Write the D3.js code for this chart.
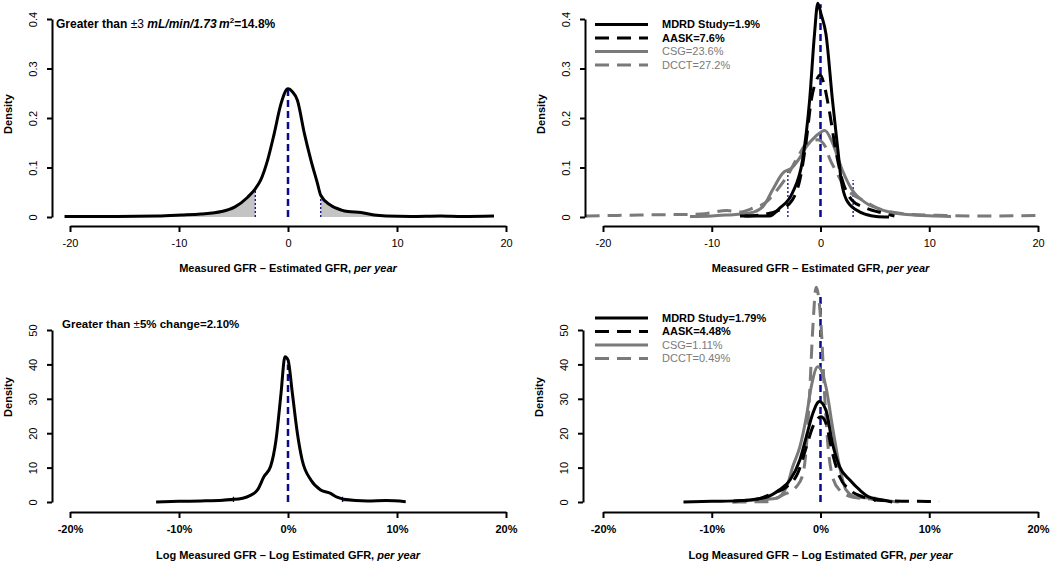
<!DOCTYPE html>
<html>
<head>
<meta charset="utf-8">
<script src="https://cdn.jsdelivr.net/npm/d3@7"></script>
<style>
  body { margin: 0; background: #fff; }
  text { font-family: "Liberation Sans", Arial, sans-serif; }
</style>
</head>
<body>
<script>
// ---- data (x, density) ----
var tlAll = [[-20.5,0.001],[-18,0.001],[-15.7,0.001],[-12,0.002],[-9.8,0.004],[-8,0.006],[-6.1,0.011],[-4.9,0.02],[-3.7,0.04],[-3,0.057],[-2.5,0.075],[-1.87,0.115],[-1.26,0.169],[-0.64,0.229],[0,0.259],[0.4,0.253],[0.86,0.236],[1.5,0.169],[2.1,0.115],[2.7,0.068],[3,0.044],[3.9,0.024],[4.9,0.014],[5.5,0.011],[6.7,0.009],[7.9,0.004],[9,0.002],[11.3,0.001],[14,0.002],[16,0.001],[18.9,0.002]];
var tlRefs = [[-3,0.058],[0,0.26],[3,0.041]];

var trMDRD = [[-7.4,0.002],[-4.7,0.002],[-3.8,0.017],[-2.6,0.048],[-1.65,0.115],[-1.0,0.236],[-0.55,0.37],[-0.25,0.432],[0.05,0.41],[0.5,0.37],[1.1,0.236],[1.6,0.135],[1.9,0.075],[2.4,0.034],[3.3,0.014],[4.2,0.005],[5.1,0.001],[6.3,0]];
var trAASK = [[-7,0.002],[-5.6,0.004],[-3.8,0.014],[-2.6,0.034],[-1.9,0.075],[-1.3,0.156],[-0.85,0.236],[-0.4,0.275],[0,0.287],[0.3,0.27],[0.8,0.216],[1.4,0.135],[2.0,0.075],[2.9,0.034],[4.2,0.018],[5.7,0.008],[6.8,0.002]];
var trCSG = [[-12,0.001],[-10,0.002],[-8.6,0.004],[-6.5,0.008],[-5.3,0.021],[-4.4,0.055],[-3.5,0.088],[-2.6,0.1],[-1.9,0.12],[-1.3,0.142],[-0.5,0.162],[0.4,0.175],[1.1,0.15],[2.0,0.095],[2.9,0.055],[4.2,0.028],[5.7,0.014],[7.9,0.005],[10.6,0.002],[12,0.001]];
var trDCCT = [[-21.6,0.002],[-16.6,0.004],[-11,0.006],[-8.6,0.013],[-7.5,0.01],[-6.2,0.018],[-5,0.03],[-3.8,0.06],[-3,0.085],[-2,0.125],[-1.3,0.148],[-0.25,0.156],[0.5,0.14],[0.8,0.12],[1.5,0.09],[2.2,0.06],[3,0.045],[3.9,0.034],[5.7,0.014],[8.5,0.005],[11.5,0.003],[15,0.002],[19.8,0.003]];
var trRefs = [[-3,0.095],[0,0.43],[3,0.075]];

var blAll = [[-12.1,0],[-10,0.2],[-8,0.3],[-6,0.5],[-5,0.8],[-4.9,0.8],[-3.4,2],[-2.8,3.5],[-2.2,7.4],[-1.6,10.3],[-1.1,18],[-0.64,31.6],[-0.28,42.2],[0,41.3],[0.4,31.6],[0.86,20],[1.3,12.2],[2.1,6.4],[3,3.5],[3.9,2.5],[4.5,1.4],[5,0.9],[5.1,0.8],[7.3,0.3],[9,0.4],[10.8,0.1]];
var blRefs = [[-5,1.5],[0,40],[5,1.5]];

var brMDRD = [[-12.6,0],[-10,0.2],[-7.4,0.4],[-5,1.4],[-3.8,3.5],[-2.8,6.4],[-1.9,12.2],[-1.3,19],[-0.7,25.8],[-0.1,29.2],[0.5,26.7],[1.1,17],[1.75,10.3],[2.7,6.4],[3.6,3.5],[4.5,1.4],[6.0,0.4],[6.6,0]];
var brAASK = [[-8,0.3],[-5.9,0.8],[-4.4,2.5],[-3.1,4.5],[-2.1,8.3],[-1.3,16],[-0.7,21.9],[0.06,24.8],[0.5,22.9],[1.1,14.2],[1.75,7.4],[2.7,3.5],[3.9,1.5],[5.4,0.5],[6.9,0.3],[9,0.2],[10.9,0.1]];
var brCSG = [[-8.1,0],[-6.2,0.5],[-4.1,1.1],[-3.1,4.5],[-2.55,10.3],[-1.9,16],[-1.3,24.8],[-0.85,33.5],[-0.25,39.3],[0.5,33.5],[1.1,21.9],[1.75,10.3],[2.35,3.5],[3.3,1.4],[4.8,1.1],[6.3,0.3],[7.2,0]];
var brDCCT = [[-8.1,0],[-5,0.1],[-3.5,2],[-2.2,4.5],[-1.6,8.3],[-1.3,16],[-1.0,31.6],[-0.7,51],[-0.4,62.4],[0.06,51],[0.37,31.6],[0.67,17],[1.1,7.4],[1.75,3.5],[3.0,1.4],[4.8,0.8],[6.3,0.3]];
var brRefs = [[-5,1.5],[0,60],[5,1.5]];

var xTicks = [-20, -10, 0, 10, 20];
var yTicksTop = [0, 0.1, 0.2, 0.3, 0.4];
var yTicksBottom = [0, 10, 20, 30, 40, 50];

var topLegend = ['MDRD Study=1.9%', 'AASK=7.6%', 'CSG=23.6%', 'DCCT=27.2%'];
var bottomLegend = ['MDRD Study=1.79%', 'AASK=4.48%', 'CSG=1.11%', 'DCCT=0.49%'];

var GRAY = '#7a7a7a';
var BLUE = '#0a0a8c';
var seriesStyle = [
  { color: '#000', dash: null, bold: true },
  { color: '#000', dash: '14,8', bold: true },
  { color: GRAY, dash: null, bold: false },
  { color: GRAY, dash: '14,8', bold: false }
];

var svg = d3.select('body').append('svg')
  .attr('width', 1050)
  .attr('height', 563);

function panel(o) {
  var g = svg.append('g');
  var x = d3.scaleLinear().domain([-20, 20]).range([o.x0, o.x1]);
  var y = d3.scaleLinear().domain([0, o.yMax]).range([o.yBase, o.yTop]);

  var line = d3.line()
    .x(function(d) { return x(d[0]); })
    .y(function(d) { return y(d[1]); })
    .curve(d3.curveMonotoneX);

  // shaded tails
  if (o.shade) {
    var area = d3.area()
      .x(function(d) { return x(d[0]); })
      .y0(y(0))
      .y1(function(d) { return y(d[1]); })
      .curve(d3.curveMonotoneX);
    g.append('path').datum(o.shade.data.filter(function(d) { return d[0] <= -o.shade.cut; }))
      .attr('fill', '#c4c4c4').attr('d', area);
    g.append('path').datum(o.shade.data.filter(function(d) { return d[0] >= o.shade.cut; }))
      .attr('fill', '#c4c4c4').attr('d', area);
  }

  // reference lines
  g.selectAll('.ref').data(o.refs).enter().append('line')
    .attr('x1', function(d) { return x(d[0]); })
    .attr('x2', function(d) { return x(d[0]); })
    .attr('y1', y(0))
    .attr('y2', function(d) { return y(d[1]); })
    .attr('stroke', BLUE)
    .attr('stroke-width', function(d) { return d[0] === 0 ? 2.5 : 1.3; })
    .attr('stroke-dasharray', function(d) { return d[0] === 0 ? '7,4' : '2,2'; });

  // curves (draw back to front)
  o.series.slice().reverse().forEach(function(s) {
    g.append('path').datum(s.data)
      .attr('fill', 'none')
      .attr('stroke', s.style.color)
      .attr('stroke-width', 3)
      .attr('stroke-dasharray', s.style.dash)
      .attr('stroke-linejoin', 'round')
      .attr('d', line);
  });

  // x axis
  var xa = g.append('g')
    .attr('transform', 'translate(0,' + o.xAxisY + ')')
    .call(d3.axisBottom(x).tickValues(xTicks).tickSize(6).tickSizeOuter(0)
      .tickFormat(function(d) { return o.pct ? d + '%' : d; }));
  xa.select('.domain').attr('stroke-width', 2);
  xa.selectAll('.tick line').attr('stroke-width', 2);
  xa.selectAll('.tick text')
    .attr('y', 17).attr('dy', '0.32em')
    .style('font-size', '11px').style('font-weight', o.pct ? 'bold' : 'normal');

  // y axis
  var ya = g.append('g')
    .attr('transform', 'translate(' + o.yAxisX + ',0)')
    .call(d3.axisLeft(y).tickValues(o.yTicks).tickSize(5).tickSizeOuter(0)
      .tickFormat(function(d) { return String(d); }));
  ya.select('.domain').attr('stroke-width', 2);
  ya.selectAll('.tick line').attr('stroke-width', 2);
  ya.selectAll('.tick text')
    .attr('transform', 'rotate(-90)')
    .attr('x', 0).attr('y', -15).attr('dy', 0)
    .attr('text-anchor', 'middle')
    .style('font-size', '11px');

  // axis titles
  g.append('text')
    .attr('transform', 'translate(' + (o.yAxisX - 40) + ',' + o.yLabY + ') rotate(-90)')
    .attr('text-anchor', 'middle')
    .style('font-size', '11px').style('font-weight', 'bold')
    .text('Density');

  var xt = g.append('text')
    .attr('x', (o.x0 + o.x1) / 2).attr('y', o.xLabY)
    .attr('text-anchor', 'middle')
    .style('font-size', '11px').style('font-weight', 'bold');
  xt.append('tspan').text(o.xLab);
  xt.append('tspan').style('font-style', 'italic').text('per year');

  // legend
  if (o.legend) {
    o.legend.forEach(function(lab, i) {
      var st = seriesStyle[i];
      var ly = o.legY + i * 13.5;
      g.append('line')
        .attr('x1', 595).attr('x2', 648).attr('y1', ly).attr('y2', ly)
        .attr('stroke', st.color).attr('stroke-width', 3)
        .attr('stroke-dasharray', st.dash);
      g.append('text')
        .attr('x', 662).attr('y', ly).attr('dy', '0.35em')
        .attr('fill', st.color)
        .style('font-size', '11px').style('font-weight', st.bold ? 'bold' : 'normal')
        .text(lab);
    });
  }
  return g;
}

// top left
var tl = panel({
  x0: 70, x1: 506, yMax: 0.4, yBase: 217, yTop: 19, xAxisY: 226, yAxisX: 52,
  yTicks: yTicksTop, yLabY: 114, xLabY: 272, xLab: 'Measured GFR \u2013 Estimated GFR, ',
  refs: tlRefs, shade: { data: tlAll, cut: 3 },
  series: [{ data: tlAll, style: seriesStyle[0] }]
});
var ann1 = tl.append('text').attr('x', 56).attr('y', 28)
  .style('font-size', '12px').style('font-weight', 'bold');
ann1.append('tspan').text('Greater than ');
ann1.append('tspan').style('font-weight', 'normal').text('\u00b13 ');
ann1.append('tspan').style('font-style', 'italic').text('mL/min/1.73\u2009m');
ann1.append('tspan').attr('dy', -5).style('font-size', '8px').text('2');
ann1.append('tspan').attr('dy', 5).text('=14.8%');

// top right
panel({
  x0: 603, x1: 1038, yMax: 0.4, yBase: 217, yTop: 19, xAxisY: 226, yAxisX: 585,
  yTicks: yTicksTop, yLabY: 114, xLabY: 272, xLab: 'Measured GFR \u2013 Estimated GFR, ',
  refs: trRefs, legend: topLegend, legY: 24.5,
  series: [
    { data: trMDRD, style: seriesStyle[0] },
    { data: trAASK, style: seriesStyle[1] },
    { data: trCSG, style: seriesStyle[2] },
    { data: trDCCT, style: seriesStyle[3] }
  ]
});

// bottom left
var bl = panel({
  x0: 70, x1: 506, yMax: 50, yBase: 502, yTop: 330, xAxisY: 512, yAxisX: 52, pct: true,
  yTicks: yTicksBottom, yLabY: 397, xLabY: 559, xLab: 'Log Measured GFR \u2013 Log Estimated GFR, ',
  refs: blRefs, shade: { data: blAll, cut: 5 },
  series: [{ data: blAll, style: seriesStyle[0] }]
});
var ann2 = bl.append('text').attr('x', 62).attr('y', 328)
  .style('font-size', '11.5px').style('font-weight', 'bold');
ann2.append('tspan').text('Greater than ');
ann2.append('tspan').style('font-weight', 'normal').text('\u00b1');
ann2.append('tspan').text('5% change=2.10%');

// bottom right
panel({
  x0: 603, x1: 1038, yMax: 50, yBase: 502, yTop: 330, xAxisY: 512, yAxisX: 583, pct: true,
  yTicks: yTicksBottom, yLabY: 397, xLabY: 559, xLab: 'Log Measured GFR \u2013 Log Estimated GFR, ',
  refs: brRefs, legend: bottomLegend, legY: 318,
  series: [
    { data: brMDRD, style: seriesStyle[0] },
    { data: brAASK, style: seriesStyle[1] },
    { data: brCSG, style: seriesStyle[2] },
    { data: brDCCT, style: seriesStyle[3] }
  ]
});
</script>
</body>
</html>
